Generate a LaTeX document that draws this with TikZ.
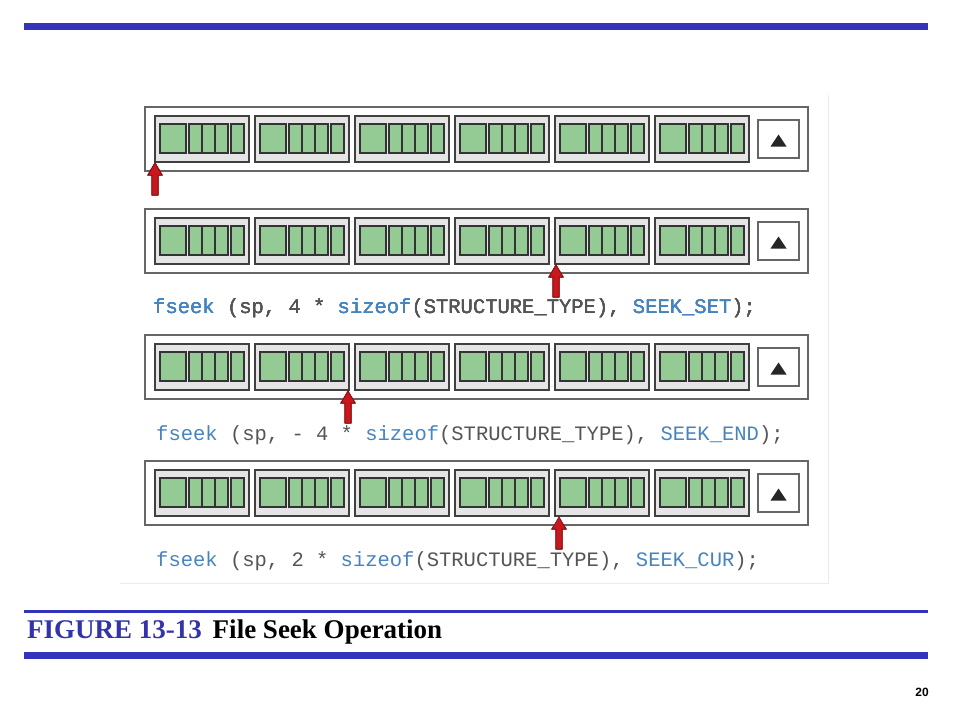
\documentclass[tikz,border=0pt]{standalone}
\usepackage{fontspec}
\setmainfont{Liberation Serif}
\newfontfamily\codefont{Liberation Mono}
\newfontfamily\slidefont{Liberation Sans}
\usetikzlibrary{positioning}
\definecolor{barblue}{RGB}{51,51,187}
\definecolor{figblue}{RGB}{51,51,170}
\definecolor{cellgreen}{RGB}{148,202,148}
\definecolor{codeblue}{RGB}{70,132,192}
\definecolor{codegray}{RGB}{85,85,85}
\definecolor{arrowred}{RGB}{200,24,30}
\newcommand{\kw}[1]{\textcolor{codeblue}{#1}}
\newcommand{\filerow}[1]{%
  \draw[outer] (145,#1) rectangle (808,#1+64);
  \foreach \b in {0,...,5} {
    \draw[record] (155+\b*100,#1+9) rectangle +(94,46);
    \foreach \c/\w in {5/26,34/13,47/13,60/13,76/13}
      \draw[field] (155+\b*100+\c,#1+17) rectangle +(\w,29);
  }
  \draw[outer] (758,#1+13) rectangle (799,#1+51);
  \fill[black!85] (770.5,#1+39.5) -- (786.5,#1+39.5) -- (778.5,#1+27.5) -- cycle;
}
\newcommand{\seekarrow}[2]{%
  \filldraw[pointer] (#1,#2+56) -- (#1+7,#2+68) -- (#1+3,#2+68) -- (#1+3,#2+88)
    -- (#1-3,#2+88) -- (#1-3,#2+68) -- (#1-7,#2+68) -- cycle;
}

\begin{document}
\begin{tikzpicture}[x=1pt,y=-1pt]
    \tikzstyle{outer} = [draw=black!60,line width=1.6pt,fill=white]
    \tikzstyle{record} = [draw=black!75,line width=1.8pt,fill=black!10]
    \tikzstyle{field} = [draw=black!80,line width=1.8pt,fill=cellgreen]
    \tikzstyle{pointer} = [fill=arrowred,draw=arrowred!70!black,line width=0.8pt]
    \tikzstyle{code} = [anchor=base west,inner sep=0pt,text=codegray,font=\codefont\fontsize{20.5}{24}\selectfont]
    \useasboundingbox (0,0) rectangle (960,720);
    \fill[barblue] (24,23) rectangle (928,30);
    \draw[black!8] (120,583) -- (828,583) -- (828,95);
    \foreach \y in {107,209,335,461} \filerow{\y}
    \seekarrow{155}{107}
    \seekarrow{556}{209}
    \seekarrow{348}{335}
    \seekarrow{559}{461}
      \node[code] (seekset) at (153,313.4) {\kw{fseek} (sp, 4 * \kw{sizeof}(STRUCTURE\_TYPE), \kw{SEEK\_SET});};
      \node[code] (seekend) at (156,440) {\kw{fseek} (sp, - 4 * \kw{sizeof}(STRUCTURE\_TYPE), \kw{SEEK\_END});};
      \node[code] (seekcur) at (156,566) {\kw{fseek} (sp, 2 * \kw{sizeof}(STRUCTURE\_TYPE), \kw{SEEK\_CUR});};
    \fill[barblue] (24,610) rectangle (928,613);
    \fill[barblue] (24,652) rectangle (928,659);
      \node[anchor=base west,inner sep=0pt,font=\bfseries\fontsize{27}{30}\selectfont] (caption) at (27,638) {\textcolor{figblue}{FIGURE 13-13}\hspace{0.4em}File Seek Operation};
      \node[font=\slidefont\bfseries\fontsize{12}{14}\selectfont] (pagenum) at (922,692) {20};
  \end{tikzpicture}
\end{document}
